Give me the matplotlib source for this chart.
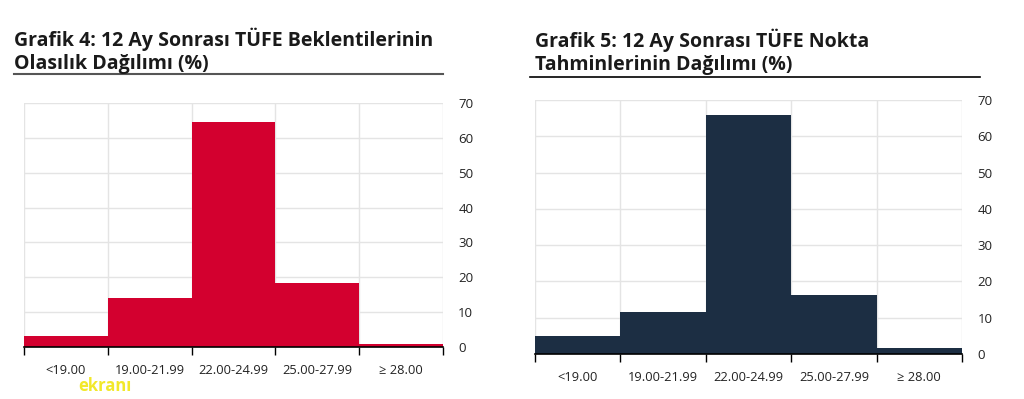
import matplotlib
matplotlib.use('Agg')
from matplotlib import pyplot as plt
import numpy as np

# > data
categories = ['<19.00', '19.00-21.99', '22.00-24.99', '25.00-27.99', '≥ 28.00']
probability_values = [3.2, 14.0, 64.5, 18.3, 0.9]
point_forecast_values = [5.0, 11.6, 65.8, 16.3, 1.7]
y_ticks = [0, 10, 20, 30, 40, 50, 60, 70]

plt.rcParams['font.family'] = ['Open Sans', 'DejaVu Sans']


def draw_histogram(ax, values, color):
    positions = np.arange(len(categories))
    ax.bar(positions, values, width=1.0, color=color, zorder=2)
    ax.set_xlim(-0.5, len(categories) - 0.5)
    ax.set_ylim(0, 70)
    ax.set_yticks(y_ticks)
    ax.yaxis.tick_right()
    ax.tick_params(axis='y', length=0, pad=11, labelsize=9.5, labelcolor='#222222')
    # labels at centres, tick marks at bin edges
    ax.set_xticks(positions)
    ax.set_xticklabels(categories)
    ax.set_xticks(np.arange(len(categories) + 1) - 0.5, minor=True)
    ax.tick_params(axis='x', which='major', length=0, pad=12, labelsize=9.3, labelcolor='#222222')
    ax.tick_params(axis='x', which='minor', length=6, width=1, color='black', direction='out')
    ax.grid(True, axis='y', color='#e4e4e4', linewidth=1, zorder=0)
    ax.grid(True, axis='x', which='minor', color='#e4e4e4', linewidth=1, zorder=0)
    for side in ['top', 'left', 'right']:
        ax.spines[side].set_visible(False)
    ax.spines['bottom'].set_color('black')
    ax.spines['bottom'].set_linewidth(1.2)
    ax.spines['bottom'].set_zorder(3)


def draw_title(x_px, first_baseline_px, lines):
    for i, line in enumerate(lines):
        fig.text(x_px / 1024, 1 - (first_baseline_px + 22.5 * i) / 399, line,
                 fontsize=14, fontweight='bold', color='#1a1a1a', ha='left', va='baseline')


fig = plt.figure(figsize=(10.24, 3.99), dpi=100)

ax_left = fig.add_axes([0.0234, 0.1303, 0.4092, 0.6116])
draw_histogram(ax_left, probability_values, '#d3002f')

ax_right = fig.add_axes([0.5225, 0.1128, 0.4170, 0.6366])
draw_histogram(ax_right, point_forecast_values, '#1c2e43')

# titles
draw_title(14, 46, ['Grafik 4: 12 Ay Sonrası TÜFE Beklentilerinin', 'Olasılık Dağılımı (%)'])
draw_title(535, 47.5, ['Grafik 5: 12 Ay Sonrası TÜFE Nokta', 'Tahminlerinin Dağılımı (%)'])
fig.add_artist(plt.Line2D([14 / 1024, 443 / 1024], [1 - 74 / 399, 1 - 74 / 399],
                          color='#555555', linewidth=1.5))
fig.add_artist(plt.Line2D([530 / 1024, 980 / 1024], [1 - 76.5 / 399, 1 - 76.5 / 399],
                          color='black', linewidth=1.2))

# watermark
fig.text(78 / 1024, 1 - 391 / 399, 'ekranı', fontsize=12, fontweight='bold', color='#f2e82a', ha='left')

fig.savefig('out.png', dpi=100)
